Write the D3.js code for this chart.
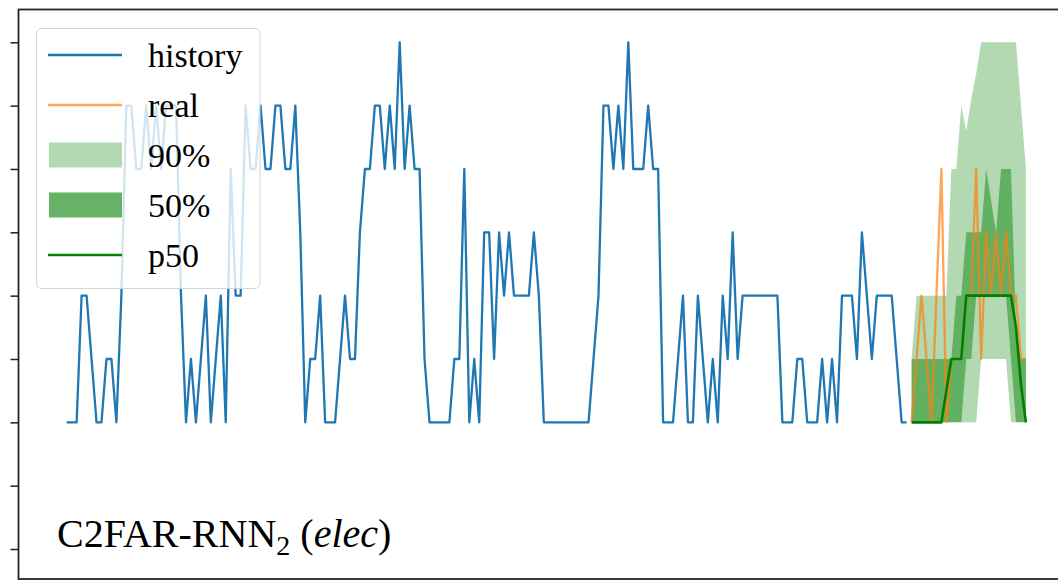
<!DOCTYPE html>
<html>
<head>
<meta charset="utf-8">
<script src="https://cdn.jsdelivr.net/npm/d3@7"></script>
<style>
  body { margin: 0; background: #fff; }
  text { font-family: "Liberation Serif", "Times New Roman", serif; fill: #000; }
</style>
</head>
<body>
<script>
const width = 1058;
const height = 580;

// observed history (one value per time step)
const history = [
  0, 0, 0, 2, 2, 1, 0, 0, 1, 1, 0, 2, 5, 5, 4, 4, 5, 4, 5, 4,
  5, 5, 5, 2, 0, 1, 0, 1, 2, 0, 1, 2, 0, 4, 2, 2, 5, 4, 4, 5,
  4, 4, 5, 5, 4, 4, 5, 3, 0, 1, 1, 2, 0, 0, 0, 1, 2, 1, 1, 3,
  4, 4, 5, 5, 4, 5, 4, 6, 4, 5, 4, 4, 1, 0, 0, 0, 0, 0, 1, 1,
  4, 0, 1, 0, 3, 3, 1, 3, 2, 3, 2, 2, 2, 2, 3, 2, 0, 0, 0, 0,
  0, 0, 0, 0, 0, 0, 1, 2, 5, 5, 4, 5, 4, 6, 4, 4, 4, 5, 4, 4,
  0, 0, 0, 1, 2, 0, 0, 2, 1, 0, 1, 0, 2, 1, 3, 1, 2, 2, 2, 2,
  2, 2, 2, 2, 0, 0, 0, 1, 1, 0, 0, 0, 1, 0, 1, 0, 2, 2, 2, 1,
  3, 2, 1, 2, 2, 2, 2, 1, 0, 0
];

// forecast horizon (24 steps)
const real = [0, 1, 2, 1, 0, 2, 4, 0, 1, 1, 1, 2, 2, 4, 1, 3, 2, 3, 2, 3, 2, 2, 1, 1];
const p50  = [0, 0, 0, 0, 0, 0, 0, 0.5, 1, 1, 1, 2, 2, 2, 2, 2, 2, 2, 2, 2, 2, 1.5, 0.6, 0];
const lo90 = [0, 0, 0, 0, 0, 0, 0, 0, 0, 0, 0, 0, 0, 0, 1, 1, 1, 1, 1, 1, 0, 0, 0, 0];
const hi90 = [1, 2, 2, 2, 2, 2, 2, 2, 4, 4, 5, 4.6, 5.1, 5.5, 6, 6, 6, 6, 6, 6, 6, 6, 5, 4];
const lo50 = [0, 0, 0, 0, 0, 0, 0, 0, 0, 0, 0, 1, 1, 2, 2, 2, 2, 2, 2, 2, 1, 0, 0, 0];
const hi50 = [1, 1, 1, 1, 1, 1, 1, 1, 1, 2, 2, 3, 3, 3, 3, 4, 3.5, 3, 4, 4, 4, 1.5, 1, 1];

const yTicks = [-2, -1, 0, 1, 2, 3, 4, 5, 6];
const legendItems = [
  { label: "history", type: "line", color: "#1f77b4", opacity: 1 },
  { label: "real", type: "line", color: "#ff7f0e", opacity: 0.7 },
  { label: "90%", type: "patch", color: "#b3d9b3" },
  { label: "50%", type: "patch", color: "#66b266" },
  { label: "p50", type: "line", color: "#008000", opacity: 1 }
];

const start = history.length; // forecast begins right after history
const n = history.length + real.length;

const svg = d3.select("body").append("svg")
  .attr("width", width)
  .attr("height", height);

const frame = { left: 18.5, top: 9.5, right: 1062, bottom: 579 };

const x = d3.scaleLinear().domain([0, n - 1]).range([66.7, 1025.9]);
const y = d3.scaleLinear().domain([-2, 6]).range([549, 42.3]);

svg.append("clipPath").attr("id", "plot-clip")
  .append("rect")
  .attr("x", frame.left).attr("y", frame.top)
  .attr("width", frame.right - frame.left).attr("height", frame.bottom - frame.top);

const plot = svg.append("g").attr("clip-path", "url(#plot-clip)");

// history
const histLine = d3.line().x((d, i) => x(i)).y((d) => y(d));
plot.append("path")
  .attr("d", histLine(history))
  .attr("fill", "none")
  .attr("stroke", "#1f77b4")
  .attr("stroke-width", 2.3)
  .attr("stroke-linejoin", "round");

// forecast helpers
const fx = (i) => x(start + i);
const fLine = d3.line().x((d, i) => fx(i)).y((d) => y(d));

const band = (lo, hi) => d3.area()
  .x((d, i) => fx(i))
  .y0((d, i) => y(lo[i]))
  .y1((d, i) => y(hi[i]))(lo);

plot.append("path")
  .attr("d", band(lo90, hi90))
  .attr("fill", "green")
  .attr("fill-opacity", 0.3);

plot.append("path")
  .attr("d", band(lo50, hi50))
  .attr("fill", "green")
  .attr("fill-opacity", 0.45);

// real values drawn over the bands
plot.append("path")
  .attr("d", fLine(real))
  .attr("fill", "none")
  .attr("stroke", "#ff7f0e")
  .attr("stroke-opacity", 0.7)
  .attr("stroke-width", 2.3)
  .attr("stroke-linejoin", "round");

plot.append("path")
  .attr("d", fLine(p50))
  .attr("fill", "none")
  .attr("stroke", "#008000")
  .attr("stroke-width", 2.6)
  .attr("stroke-linejoin", "round");

// y axis, ticks only
svg.append("g")
  .attr("transform", `translate(${frame.left},0)`)
  .call(d3.axisLeft(y).tickValues(yTicks).tickFormat("").tickSize(8).tickSizeOuter(0))
  .call((g) => g.select(".domain").remove())
  .call((g) => g.selectAll("line").attr("stroke", "#222").attr("stroke-width", 1.5));

// spines
svg.append("rect")
  .attr("x", frame.left).attr("y", frame.top)
  .attr("width", frame.right - frame.left).attr("height", frame.bottom - frame.top)
  .attr("fill", "none")
  .attr("stroke", "#262626")
  .attr("stroke-width", 1.8);

// legend
const legend = svg.append("g");
legend.append("rect")
  .attr("x", 36.5).attr("y", 28.5)
  .attr("width", 223.5).attr("height", 260)
  .attr("rx", 5)
  .attr("fill", "#fff").attr("fill-opacity", 0.8)
  .attr("stroke", "#d4d4d4").attr("stroke-width", 1);

const rows = legend.selectAll("g.row")
  .data(legendItems)
  .join("g")
  .attr("class", "row")
  .attr("transform", (d, i) => `translate(0,${55 + i * 50})`);

rows.filter((d) => d.type === "line").append("line")
  .attr("x1", 48).attr("x2", 122)
  .attr("stroke", (d) => d.color)
  .attr("stroke-opacity", (d) => d.opacity)
  .attr("stroke-width", 2.6);

rows.filter((d) => d.type === "patch").append("rect")
  .attr("x", 49).attr("y", -12.5)
  .attr("width", 73).attr("height", 25)
  .attr("fill", (d) => d.color);

rows.append("text")
  .attr("x", 148).attr("y", 11.5)
  .attr("font-size", 34)
  .text((d) => d.label);

// title inside the axes
const title = svg.append("text")
  .attr("x", 57).attr("y", 547)
  .attr("font-size", 40);
title.append("tspan").text("C2FAR-RNN");
title.append("tspan").attr("font-size", 28).attr("dy", 8).text("2");
title.append("tspan").attr("dy", -8).text(" (");
title.append("tspan").attr("font-style", "italic").text("elec");
title.append("tspan").text(")");

console.log("-- js fully loaded --");
</script>
</body>
</html>
